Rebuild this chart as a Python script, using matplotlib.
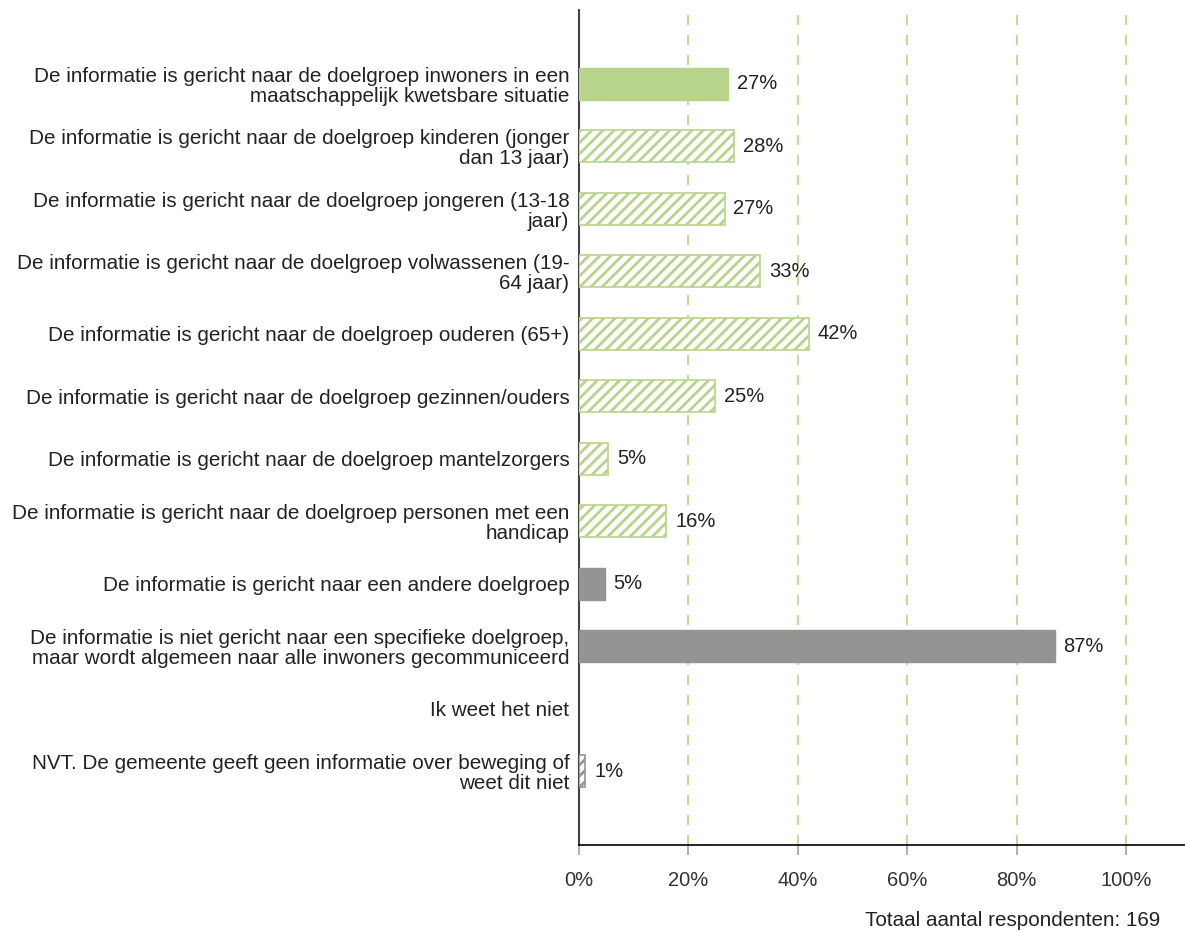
import numpy as np
import matplotlib.pyplot as plt

plt.rcParams['font.family'] = ['Liberation Sans', 'DejaVu Sans']
plt.rcParams['hatch.linewidth'] = 2.0

labels = [
    "De informatie is gericht naar de doelgroep inwoners in een\nmaatschappelijk kwetsbare situatie",
    "De informatie is gericht naar de doelgroep kinderen (jonger\ndan 13 jaar)",
    "De informatie is gericht naar de doelgroep jongeren (13-18\njaar)",
    "De informatie is gericht naar de doelgroep volwassenen (19-\n64 jaar)",
    "De informatie is gericht naar de doelgroep ouderen (65+)",
    "De informatie is gericht naar de doelgroep gezinnen/ouders",
    "De informatie is gericht naar de doelgroep mantelzorgers",
    "De informatie is gericht naar de doelgroep personen met een\nhandicap",
    "De informatie is gericht naar een andere doelgroep",
    "De informatie is niet gericht naar een specifieke doelgroep,\nmaar wordt algemeen naar alle inwoners gecommuniceerd",
    "Ik weet het niet",
    "NVT. De gemeente geeft geen informatie over beweging of\nweet dit niet",
]
counts = [46, 48, 45, 56, 71, 42, 9, 27, 8, 147, 0, 2]
n_resp = 169
pct = [c / n_resp * 100 for c in counts]
# style per bar: solid green, hatched green, solid grey, hatched grey
kinds = ['g', 'gh', 'gh', 'gh', 'gh', 'gh', 'gh', 'gh', 'k', 'k', 'k', 'kh']

green = '#b8d48b'
grey = '#969393'
fs = 14.9
fs_small = 14.5

fig = plt.figure(figsize=(11.85, 9.32), dpi=100)
ax = fig.add_axes([0.4886, 0.0933, 0.5114, 0.896])

y = np.arange(len(labels))
for i, (p, k) in enumerate(zip(pct, kinds)):
    if p <= 0:
        continue
    if k == 'g':
        ax.barh(i, p, height=0.51, color=green, edgecolor=green, zorder=3)
    elif k == 'gh':
        ax.barh(i, p, height=0.51, color='white', edgecolor=green, hatch='///', linewidth=1.2, zorder=3)
    elif k == 'k':
        ax.barh(i, p, height=0.51, color=grey, edgecolor=grey, zorder=3)
    else:
        ax.barh(i, p, height=0.51, color='white', edgecolor=grey, hatch='///', linewidth=1.2, zorder=3)
    ax.text(p + 1.6, i, f"{round(p)}%", va='center', ha='left', fontsize=fs_small, color='#222222')

ax.set_xlim(0, 110.8)
ax.set_ylim(len(labels) - 1 + 1.18, -1.18)
ax.set_yticks(y)
ax.set_yticklabels(labels, fontsize=fs, color='#222222', linespacing=1.06)
ax.tick_params(axis='y', length=0, pad=7)

ax.set_xticks([0, 20, 40, 60, 80, 100])
ax.set_xticklabels(['0%', '20%', '40%', '60%', '80%', '100%'], fontsize=fs_small, color='#333333')
ax.tick_params(axis='x', length=7, width=1.5, color='#b0b0b0', pad=12)

for gx in [20, 40, 60, 80, 100]:
    ax.axvline(gx, color='#b5d680', linestyle=(0, (6, 6)), linewidth=1.2, zorder=1)

ax.spines['top'].set_visible(False)
ax.spines['right'].set_visible(False)
ax.spines['left'].set_color('#444444')
ax.spines['left'].set_linewidth(1.5)
ax.spines['bottom'].set_color('#000000')
ax.spines['bottom'].set_linewidth(1.2)

fig.text(1160 / 1185, 1 - 921 / 932, f"Totaal aantal respondenten: {n_resp}", ha='right', va='center',
         fontsize=fs, color='#222222')

fig.savefig('out.png', dpi=100)
